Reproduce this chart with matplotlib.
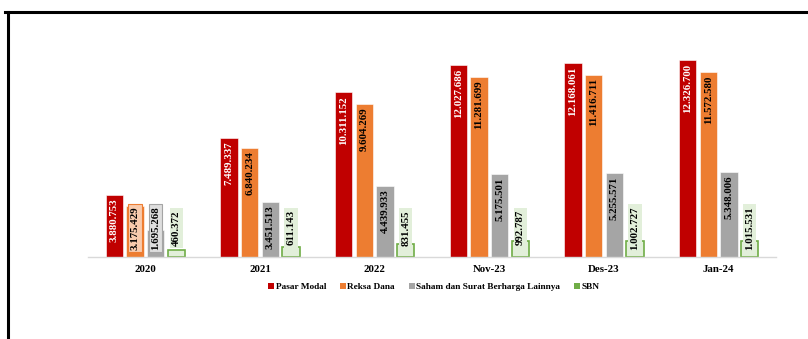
import matplotlib
matplotlib.use("Agg")
import matplotlib.pyplot as plt
from matplotlib.lines import Line2D
from matplotlib.patches import Patch
import numpy as np

categories = ["2020", "2021", "2022", "Nov-23", "Des-23", "Jan-24"]
pasar_modal = [3880753, 7489337, 10311152, 12027686, 12168061, 12326700]
reksa_dana = [3175429, 6840234, 9604269, 11281699, 11416711, 11572580]
saham_sbl = [1695268, 3451513, 4439933, 5175501, 5255571, 5348006]
sbn = [460372, 611143, 831455, 992787, 1002727, 1015531]

series_names = ["Pasar Modal", "Reksa Dana", "Saham dan Surat Berharga Lainnya", "SBN"]
series_data = [pasar_modal, reksa_dana, saham_sbl, sbn]
colors = ["#c00000", "#ed7d31", "#a5a5a5", "#70ad47"]
box_fill = ["#f4b6b6", "#f8cbad", "#dedede", "#e2efda"]
text_colors = ["white", "black", "black", "black"]

FONT = "Liberation Serif"


def fmt(v):
    return f"{v:,}".replace(",", ".")


fig = plt.figure(figsize=(8.08, 3.39), dpi=100)
ax = fig.add_axes([88 / 808, 1 - 257 / 339, 688 / 808, 217 / 339])

x = np.arange(len(categories))
step = 0.18
width = 0.15
offsets = (np.arange(4) - 1.5) * step

for i, (name, vals) in enumerate(zip(series_names, series_data)):
    xs = x + offsets[i]
    if i == 3:
        ax.bar(xs, vals, width, color="#e2efda", edgecolor=colors[i], linewidth=1.2)
    else:
        ax.bar(xs, vals, width, color=colors[i], edgecolor="white", linewidth=0.4)
    for j, v in enumerate(vals):
        label = fmt(v)
        boxed = i == 3 or (j == 0 and i in (1, 2))
        if boxed:
            ax.annotate(label, xy=(xs[j], 0), xytext=(0, 21), textcoords="offset points",
                        rotation=90, ha="center", va="center", fontsize=7.8,
                        fontweight="bold", family=FONT, color="black",
                        bbox=dict(boxstyle="square,pad=0.2", fc=box_fill[i],
                                  ec=colors[i] if i != 3 else "none", lw=0.8))
        else:
            ax.annotate(label, xy=(xs[j], v), xytext=(0, -2.5), textcoords="offset points",
                        rotation=90, ha="center", va="top", fontsize=7.8,
                        fontweight="bold", family=FONT, color=text_colors[i])

ax.set_xlim(-0.5, len(categories) - 0.5)
ax.set_ylim(0, 13600000)
ax.set_xticks(x)
ax.set_xticklabels(categories, fontsize=7.8, fontweight="bold", family=FONT)
ax.tick_params(axis="x", length=0, pad=6)
ax.set_yticks([])
for s in ["top", "right", "left"]:
    ax.spines[s].set_visible(False)
ax.spines["bottom"].set_color("#d9d9d9")
ax.spines["bottom"].set_linewidth(1)

handles = [Patch(facecolor=c, edgecolor="none") for c in colors]
fig.legend(handles, series_names, loc="center", bbox_to_anchor=(434 / 808, 1 - 287 / 339),
           ncol=4, frameon=False, handlelength=0.6, handleheight=0.6, handletextpad=0.2,
           columnspacing=1.5, prop=dict(family=FONT, weight="bold", size=6.7))

# outer frame (top and left edges only visible)
fig.add_artist(Line2D([5 / 808, 1], [1 - 12 / 339, 1 - 12 / 339], transform=fig.transFigure,
                      color="black", lw=2.2))
fig.add_artist(Line2D([7.5 / 808, 7.5 / 808], [1 - 12 / 339, 0], transform=fig.transFigure,
                      color="black", lw=2.2))

fig.savefig("out.png", dpi=100)
